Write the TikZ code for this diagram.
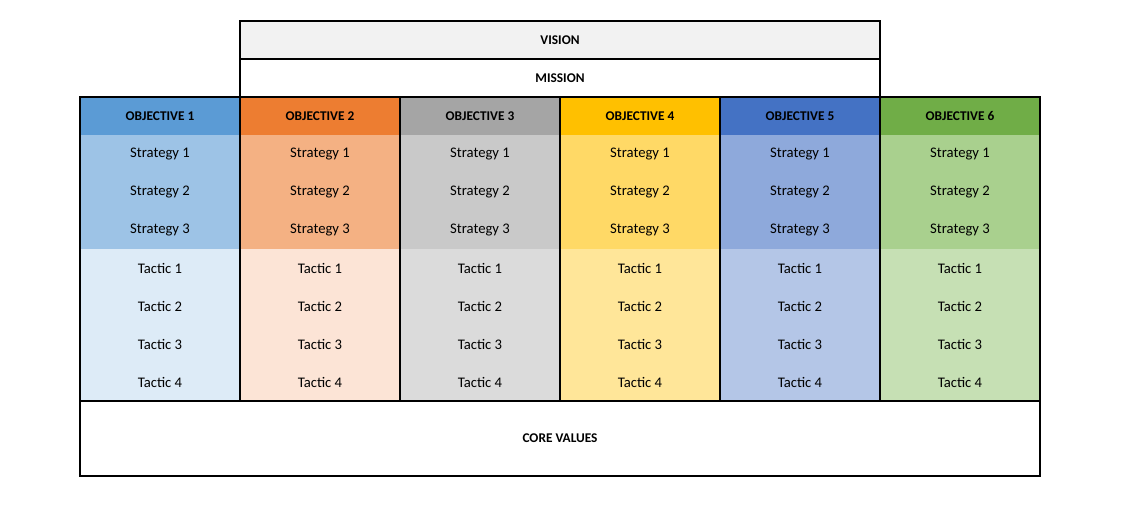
\documentclass[tikz,border=0pt]{standalone}
\usepackage{fontspec}
\setmainfont{Carlito}
\usetikzlibrary{positioning}
\definecolor{HeadA}{HTML}{5B9BD5}\definecolor{StratA}{HTML}{9DC3E6}\definecolor{TactA}{HTML}{DDEBF7}
\definecolor{HeadB}{HTML}{ED7D31}\definecolor{StratB}{HTML}{F4B183}\definecolor{TactB}{HTML}{FCE4D6}
\definecolor{HeadC}{HTML}{A5A5A5}\definecolor{StratC}{HTML}{C9C9C9}\definecolor{TactC}{HTML}{DBDBDB}
\definecolor{HeadD}{HTML}{FFC000}\definecolor{StratD}{HTML}{FFD966}\definecolor{TactD}{HTML}{FFE699}
\definecolor{HeadE}{HTML}{4472C4}\definecolor{StratE}{HTML}{8EA9DB}\definecolor{TactE}{HTML}{B4C6E7}
\definecolor{HeadF}{HTML}{70AD47}\definecolor{StratF}{HTML}{A9D08E}\definecolor{TactF}{HTML}{C6E0B4}
\definecolor{Vision}{HTML}{F2F2F2}
\tikzset{Cell/.style={rectangle, minimum width=120pt, minimum height=28.5pt, inner sep=0pt, font=\fontsize{11}{13}\selectfont},
         Frame/.style={draw=black, line width=1.2pt}}
\begin{document}
\begin{tikzpicture}[x=0.75pt, y=-0.75pt]
	\useasboundingbox (0,0) rectangle (1121,516);

	% Vision and mission
	\node (vision) at (560,40) [Cell, Frame, fill=Vision, minimum width=480pt, font=\bfseries]{VISION};
	\node (mission) at (560,78) [Cell, Frame, fill=white, minimum width=480pt, font=\bfseries]{MISSION};

	% Objective columns
	\foreach \c/\k in {A/1, B/2, C/3, D/4, E/5, F/6}{
		\pgfmathsetmacro{\x}{160*\k}
		\node (head\k) at (\x,116) [Cell, fill=Head\c, font=\bfseries]{OBJECTIVE \k};
		\foreach \s in {1,2,3}
			\node (strat\k\s) at (\x,116+38*\s) [Cell, fill=Strat\c]{Strategy \s};
		\foreach \t in {1,...,4}
			\node (tact\k\t) at (\x,230+38*\t) [Cell, fill=Tact\c]{Tactic \t};
		\draw [Frame] (head\k.north west) rectangle (tact\k4.south east);
	}

	% Core values
	\node (core) at (560,438.5) [Cell, Frame, minimum width=720pt, minimum height=56.25pt, font=\bfseries]{CORE VALUES};

\end{tikzpicture}
\end{document}
